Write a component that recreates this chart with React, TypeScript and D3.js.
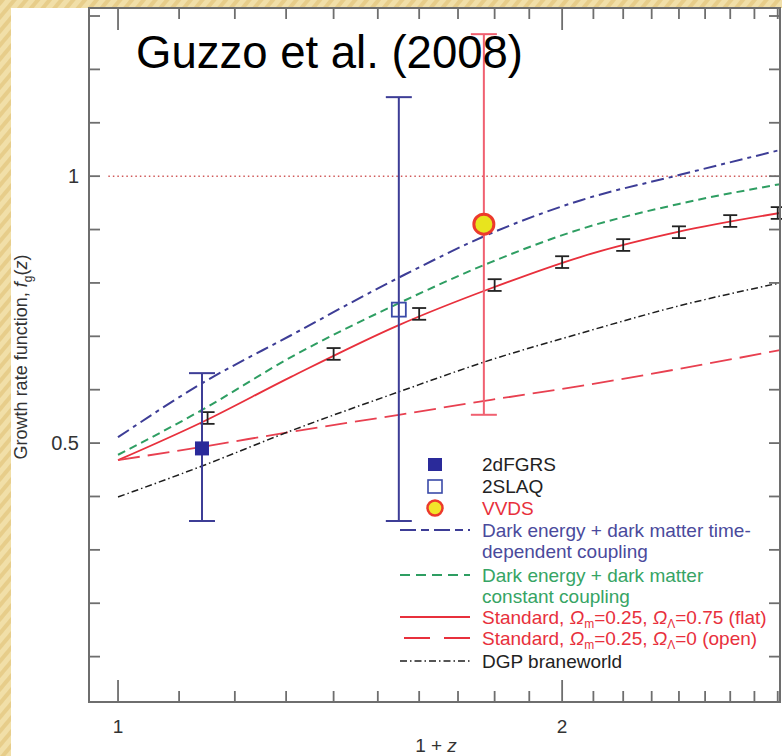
import React from 'react';
import { scaleLog, scaleLinear, line, curveMonotoneX } from 'd3';

// sample points of the model curves, x = 1 + z
const curveX = [1.0, 1.14, 1.31, 1.55, 1.79, 2.06, 2.4, 2.81];
const timeCoupling = [0.511, 0.612, 0.702, 0.81, 0.893, 0.955, 1.002, 1.049];
const constCoupling = [0.478, 0.562, 0.661, 0.762, 0.839, 0.901, 0.948, 0.985];
const standardFlat = [0.468, 0.539, 0.624, 0.721, 0.79, 0.849, 0.896, 0.931];
const standardOpen = [0.468, 0.493, 0.521, 0.553, 0.581, 0.607, 0.639, 0.674];
const dgp = [0.399, 0.457, 0.523, 0.596, 0.656, 0.706, 0.757, 0.8];

// measured growth rates
const surveys = ['2dFGRS', '2SLAQ', 'VVDS'];
const surveyX = [1.14, 1.55, 1.77];
const surveyF = [0.49, 0.75, 0.91];
const surveyLo = [0.354, 0.354, 0.553];
const surveyHi = [0.631, 1.148, 1.266];

// forecast error bars on the standard curve
const forecastX = [1.15, 1.4, 1.6, 1.8, 2.0, 2.2, 2.4, 2.6, 2.8];
const forecastF = [0.547, 0.667, 0.742, 0.796, 0.839, 0.871, 0.895, 0.916, 0.931];
const forecastErr = [0.011, 0.011, 0.011, 0.011, 0.011, 0.011, 0.011, 0.011, 0.011];

const xMinorTicks = [1, 1.1, 1.2, 1.3, 1.4, 1.5, 1.6, 1.7, 1.8, 1.9, 2, 2.1, 2.2, 2.3, 2.4, 2.5, 2.6, 2.7, 2.8];
const xTickLabels = [1, 2];
const yTicks = [0.1, 0.2, 0.3, 0.4, 0.5, 0.6, 0.7, 0.8, 0.9, 1.0, 1.1, 1.2, 1.3];
const yTickLabels = [
    { v: 1, label: '1' },
    { v: 0.5, label: '0.5' },
];

const W = 782
const H = 756
const left = 89
const right = 780
const top = 8
const bottom = 702

const BLUE = '#3d3d96'
const BLUE_TEXT = '#4a4a9c'
const GREEN = '#2e9e62'
const RED = '#e8303c'
const AXIS = '#6e6e6e'
const FONT = '"Liberation Sans", Arial, sans-serif'

const App = () => {
    const xScale = scaleLog().domain([0.9557, 2.81]).range([left, right])
    const yScale = scaleLinear().domain([0.015, 1.315]).range([bottom, top])

    const path = (ys: number[]) =>
        line<number>()
            .x((d, i) => xScale(curveX[i]))
            .y(d => yScale(d))
            .curve(curveMonotoneX)(ys) || ''

    const models = [
        { ys: timeCoupling, color: BLUE, dash: '13 5 4 5', width: 2 },
        { ys: constCoupling, color: GREEN, dash: '8 5', width: 2 },
        { ys: standardFlat, color: RED, dash: undefined, width: 1.8 },
        { ys: standardOpen, color: '#e84050', dash: '22 8', width: 1.8 },
        { ys: dgp, color: '#1e1e1e', dash: '7 3 1.5 3', width: 1.5 },
    ]

    const surveyColor = [BLUE, BLUE, '#f06070']

    const legendRows = [
        { y: 530, color: BLUE, text: BLUE_TEXT, dash: '16 5 8 5', texts: ['Dark energy + dark matter time-', 'dependent coupling'] },
        { y: 575, color: GREEN, text: '#36a464', dash: '10 6', texts: ['Dark energy + dark matter', 'constant coupling'] },
    ]

    return (
        <svg width={W} height={H} style={{ display: 'block' }} fontFamily={FONT}>
            <style>{`body{margin:0}`}</style>
            <defs>
                <pattern id="stripes" width="9" height="9" patternUnits="userSpaceOnUse" patternTransform="rotate(40)">
                    <rect width="9" height="9" fill="#f1dfa8" />
                    <rect width="4" height="9" fill="#e7cd8a" />
                </pattern>
            </defs>
            <rect width={W} height={H} fill="url(#stripes)" />
            <rect x={11} y={8} width={W - 11} height={H - 8} fill="#ffffff" />

            {/* dotted f = 1 reference */}
            <line x1={xScale(0.985)} x2={right} y1={yScale(1)} y2={yScale(1)}
                stroke="#d05a5a" strokeWidth={1.5} strokeDasharray="1.5 3" />

            {models.map((m, i) =>
                <path key={`model-${i}`} d={path(m.ys)} fill="none" stroke={m.color}
                    strokeWidth={m.width} strokeDasharray={m.dash} />
            )}

            {forecastX.map((x, i) => {
                const cx = xScale(x)
                const y1 = yScale(forecastF[i] + forecastErr[i])
                const y2 = yScale(forecastF[i] - forecastErr[i])
                return (
                    <g key={`fc-${i}`} stroke="#222" strokeWidth={1.8}>
                        <line x1={cx} x2={cx} y1={y1} y2={y2} />
                        <line x1={cx - 7} x2={cx + 7} y1={y1} y2={y1} />
                        <line x1={cx - 7} x2={cx + 7} y1={y2} y2={y2} />
                    </g>
                )
            })}

            {surveys.map((s, i) => {
                const cx = xScale(surveyX[i])
                const y1 = yScale(surveyHi[i])
                const y2 = yScale(surveyLo[i])
                return (
                    <g key={`err-${s}`} stroke={surveyColor[i]} strokeWidth={2}>
                        <line x1={cx} x2={cx} y1={y1} y2={y2} />
                        <line x1={cx - 13} x2={cx + 13} y1={y1} y2={y1} />
                        <line x1={cx - 13} x2={cx + 13} y1={y2} y2={y2} />
                    </g>
                )
            })}
            <rect x={xScale(surveyX[0]) - 7} y={yScale(surveyF[0]) - 7} width={14} height={14} fill="#2a2a9a" />
            <rect x={xScale(surveyX[1]) - 7} y={yScale(surveyF[1]) - 7} width={14} height={14}
                fill="none" stroke="#3a4aa8" strokeWidth={1.8} />
            <circle cx={xScale(surveyX[2])} cy={yScale(surveyF[2])} r={10}
                fill="#e8e41e" stroke="#ec3a2c" strokeWidth={3} />

            {/* frame and ticks */}
            <rect x={left} y={top} width={right - left} height={bottom - top} fill="none" stroke={AXIS} strokeWidth={2} />
            {xMinorTicks.map(t => {
                const major = xTickLabels.includes(t)
                const len = major ? 22 : 11
                return (
                    <g key={`xt-${t}`} stroke={AXIS} strokeWidth={1.8}>
                        <line x1={xScale(t)} x2={xScale(t)} y1={bottom} y2={bottom - len} />
                        <line x1={xScale(t)} x2={xScale(t)} y1={top} y2={top + len} />
                    </g>
                )
            })}
            {yTicks.map(t =>
                <g key={`yt-${t}`} stroke={AXIS} strokeWidth={1.8}>
                    <line x1={left} x2={left + 11} y1={yScale(t)} y2={yScale(t)} />
                    <line x1={right} x2={right - 11} y1={yScale(t)} y2={yScale(t)} />
                </g>
            )}

            {xTickLabels.map(t =>
                <text key={`xl-${t}`} x={xScale(t)} y={726} dy="0.35em" textAnchor="middle"
                    fontSize={19} fill="#333">{t}</text>
            )}
            {yTickLabels.map(t =>
                <text key={`yl-${t.label}`} x={79} y={yScale(t.v)} dy="0.35em" textAnchor="end"
                    fontSize={20} fill="#333">{t.label}</text>
            )}

            <text x={436} y={745} dy="0.35em" textAnchor="middle" fontSize={19} fill="#333">
                1 + <tspan fontStyle="italic">z</tspan>
            </text>
            <text transform="translate(21, 357) rotate(-90)" textAnchor="middle" dy="0.35em" fontSize={18} fill="#333">
                Growth rate function, <tspan fontStyle="italic">f</tspan>
                <tspan fontSize={12} dy={5}>g</tspan>
                <tspan dy={-5}>(</tspan><tspan fontStyle="italic">z</tspan>)
            </text>

            <text x={136} y={68} fontSize={45.5} fill="#000">Guzzo et al. (2008)</text>

            {/* legend */}
            <g fontSize={19}>
                <rect x={428} y={458} width={14} height={13} fill="#2a2a9a" />
                <text x={482} y={464} dy="0.35em" fill="#222">{surveys[0]}</text>
                <rect x={428} y={480} width={14} height={13} fill="none" stroke="#3a4aa8" strokeWidth={1.6} />
                <text x={482} y={486} dy="0.35em" fill="#222">{surveys[1]}</text>
                <circle cx={435} cy={508} r={7.5} fill="#f2e52a" stroke="#ec3a2c" strokeWidth={2.5} />
                <text x={482} y={508} dy="0.35em" fill={RED}>{surveys[2]}</text>

                {legendRows.map((r, i) =>
                    <g key={`lg-${i}`}>
                        <line x1={400} x2={470} y1={r.y} y2={r.y} stroke={r.color} strokeWidth={2} strokeDasharray={r.dash} />
                        <text x={482} y={r.y} dy="0.35em" fill={r.text}>{r.texts[0]}</text>
                        <text x={482} y={r.y + 21} dy="0.35em" fill={r.text}>{r.texts[1]}</text>
                    </g>
                )}

                <line x1={400} x2={470} y1={617} y2={617} stroke={RED} strokeWidth={2} />
                <text x={482} y={617} dy="0.35em" fill={RED}>
                    Standard, <tspan fontStyle="italic">Ω</tspan><tspan fontSize={12} dy={4}>m</tspan>
                    <tspan dy={-4}>=0.25, </tspan><tspan fontStyle="italic">Ω</tspan><tspan fontSize={12} dy={4}>Λ</tspan>
                    <tspan dy={-4}>=0.75 (flat)</tspan>
                </text>

                <line x1={400} x2={470} y1={638} y2={638} stroke={RED} strokeWidth={2} strokeDasharray="26 14" strokeDashoffset={-4} />
                <text x={482} y={638} dy="0.35em" fill={RED}>
                    Standard, <tspan fontStyle="italic">Ω</tspan><tspan fontSize={12} dy={4}>m</tspan>
                    <tspan dy={-4}>=0.25, </tspan><tspan fontStyle="italic">Ω</tspan><tspan fontSize={12} dy={4}>Λ</tspan>
                    <tspan dy={-4}>=0 (open)</tspan>
                </text>

                <line x1={400} x2={470} y1={661} y2={661} stroke="#1e1e1e" strokeWidth={1.5} strokeDasharray="7 3 1.5 3" />
                <text x={482} y={661} dy="0.35em" fill="#222">DGP braneworld</text>
            </g>
        </svg>
    )
}

export default App
